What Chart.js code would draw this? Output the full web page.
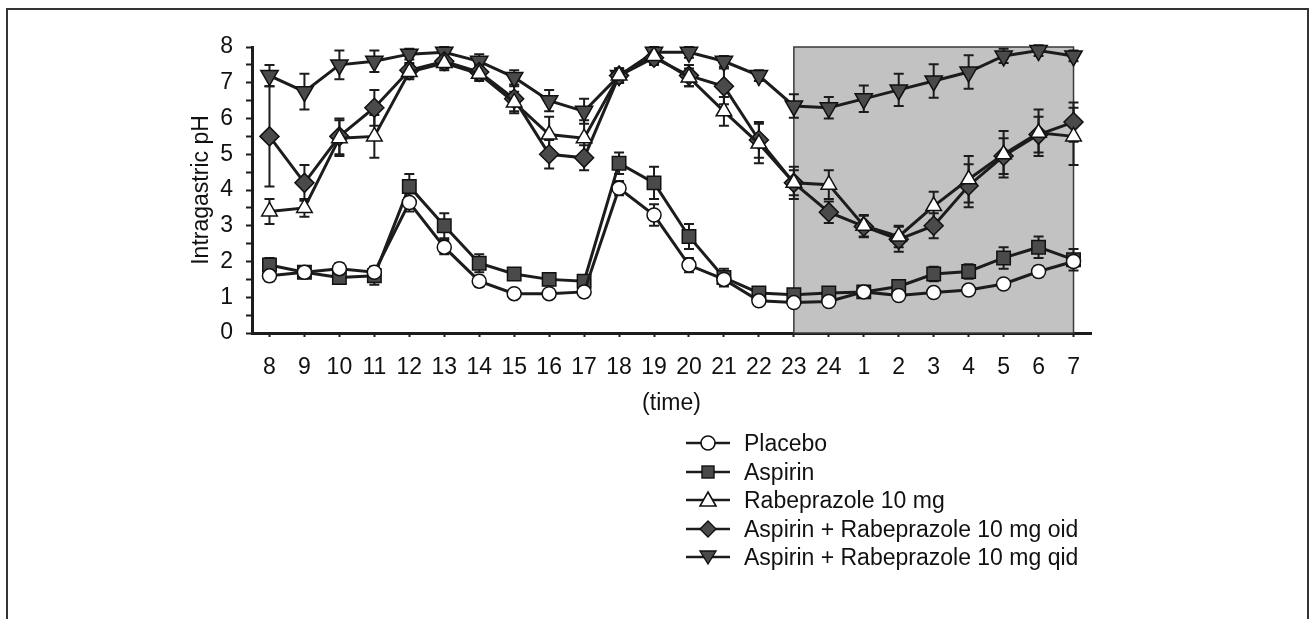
<!DOCTYPE html>
<html>
<head>
<meta charset="utf-8">
<script src="https://cdn.jsdelivr.net/npm/chart.js@4.4.1/dist/chart.umd.min.js"></script>
<style>
  html, body { margin: 0; padding: 0; background: #fff; }
  body { width: 1311px; height: 619px; position: relative; overflow: hidden; font-family: 'Liberation Sans', Arial, sans-serif; }
  #frame { position: absolute; left: 6px; top: 8px; width: 1299px; height: 700px; border: 2px solid #333; }
  #wrap { position: absolute; left: 0; top: 0; width: 1311px; height: 619px; }
  #legend { position: absolute; left: 686px; top: 429px; font-size: 23px; color: #111; }
  #legend .row { height: 28.5px; line-height: 28.5px; display: flex; align-items: center; }
  #legend svg { width: 44px; height: 28px; margin-right: 14px; flex: none; }
</style>
</head>
<body>
<div id="frame"></div>
<div id="wrap"><canvas id="graficoPH" width="1311" height="619"></canvas></div>
<div id="legend"></div>
<script>
// horas del registro de 24 h
const horas = ['8', '9', '10', '11', '12', '13', '14', '15', '16', '17', '18', '19', '20', '21', '22', '23', '24', '1', '2', '3', '4', '5', '6', '7'];

const placebo = [1.6, 1.7, 1.8, 1.7, 3.65, 2.4, 1.45, 1.1, 1.1, 1.15, 4.05, 3.3, 1.9, 1.5, 0.9, 0.85, 0.88, 1.15, 1.05, 1.13, 1.2, 1.37, 1.72, 2.0];
const placeboErr = [0.15, 0.1, 0.15, 0.15, 0.25, 0.2, 0.15, 0.1, 0.1, 0.15, 0.2, 0.3, 0.2, 0.15, 0.1, 0.1, 0.1, 0.1, 0.1, 0.1, 0.1, 0.1, 0.15, 0.15];

const aspirina = [1.9, 1.7, 1.55, 1.6, 4.1, 3.0, 1.95, 1.65, 1.5, 1.45, 4.75, 4.2, 2.7, 1.55, 1.12, 1.07, 1.12, 1.15, 1.3, 1.65, 1.72, 2.1, 2.4, 2.05];
const aspirinaErr = [0.2, 0.15, 0.1, 0.25, 0.35, 0.35, 0.25, 0.15, 0.15, 0.1, 0.3, 0.45, 0.35, 0.25, 0.15, 0.1, 0.1, 0.15, 0.15, 0.2, 0.2, 0.3, 0.3, 0.3];

const rabeprazol = [3.4, 3.5, 5.45, 5.5, 7.3, 7.55, 7.25, 6.45, 5.55, 5.45, 7.2, 7.75, 7.15, 6.2, 5.3, 4.2, 4.15, 3.0, 2.7, 3.55, 4.3, 5.0, 5.6, 5.5];
const rabeprazolErr = [0.35, 0.25, 0.5, 0.6, 0.2, 0.2, 0.2, 0.3, 0.5, 0.5, 0.2, 0.2, 0.25, 0.4, 0.55, 0.35, 0.4, 0.3, 0.3, 0.4, 0.65, 0.65, 0.65, 0.8];

const combOid = [5.5, 4.2, 5.5, 6.3, 7.35, 7.6, 7.3, 6.55, 5.0, 4.9, 7.2, 7.7, 7.2, 6.9, 5.4, 4.2, 3.38, 2.98, 2.62, 3.0, 4.12, 4.95, 5.55, 5.9];
const combOidErr = [1.4, 0.5, 0.5, 0.5, 0.2, 0.2, 0.2, 0.35, 0.4, 0.35, 0.2, 0.2, 0.3, 0.5, 0.5, 0.45, 0.3, 0.3, 0.35, 0.35, 0.6, 0.5, 0.5, 0.55];

const combQid = [7.2, 6.75, 7.5, 7.6, 7.8, 7.85, 7.6, 7.15, 6.5, 6.2, 7.2, 7.85, 7.85, 7.6, 7.2, 6.35, 6.3, 6.55, 6.8, 7.05, 7.3, 7.75, 7.9, 7.75];
const combQidErr = [0.3, 0.5, 0.4, 0.3, 0.15, 0.15, 0.2, 0.2, 0.3, 0.35, 0.2, 0.15, 0.15, 0.15, 0.15, 0.33, 0.3, 0.37, 0.45, 0.47, 0.47, 0.2, 0.15, 0.15];

// tramo nocturno sombreado
const nocheDesde = '23';
const nocheHasta = '7';

const INK = '#1c1c1c';
const GRIS = '#4a4a4a';

Chart.defaults.font.family = "'Liberation Sans', Arial, sans-serif";
Chart.defaults.font.size = 23;
Chart.defaults.color = '#111';

function serie(label, data, errors, style, fill, radius, rotation) {
  return {
    label,
    data,
    errors,
    borderColor: INK,
    borderWidth: 3,
    tension: 0,
    clip: false,
    pointStyle: style,
    pointRotation: rotation || 0,
    pointRadius: radius,
    pointHoverRadius: radius,
    pointBackgroundColor: fill,
    pointBorderColor: '#111',
    pointBorderWidth: 1.5,
  };
}

const sombraNoche = {
  id: 'sombraNoche',
  beforeDatasetsDraw(chart) {
    const { ctx, scales: { x, y } } = chart;
    const x0 = x.getPixelForValue(horas.indexOf(nocheDesde));
    const x1 = x.getPixelForValue(horas.indexOf(nocheHasta));
    const yTop = y.getPixelForValue(8);
    const yBot = y.getPixelForValue(0);
    ctx.save();
    ctx.fillStyle = '#c2c2c2';
    ctx.fillRect(x0, yTop, x1 - x0, yBot - yTop);
    ctx.strokeStyle = '#3a3a3a';
    ctx.lineWidth = 1.5;
    ctx.strokeRect(x0, yTop, x1 - x0, yBot - yTop);
    ctx.restore();
  },
};

const barrasError = {
  id: 'barrasError',
  beforeDatasetsDraw(chart) {
    const { ctx, scales: { y } } = chart;
    ctx.save();
    ctx.strokeStyle = INK;
    ctx.lineWidth = 2;
    chart.data.datasets.forEach((ds, i) => {
      const meta = chart.getDatasetMeta(i);
      meta.data.forEach((pt, j) => {
        const e = ds.errors[j];
        const v = ds.data[j];
        const yt = y.getPixelForValue(v + e);
        const yb = y.getPixelForValue(v - e);
        ctx.beginPath();
        ctx.moveTo(pt.x, yt); ctx.lineTo(pt.x, yb);
        ctx.moveTo(pt.x - 5, yt); ctx.lineTo(pt.x + 5, yt);
        ctx.moveTo(pt.x - 5, yb); ctx.lineTo(pt.x + 5, yb);
        ctx.stroke();
      });
    });
    ctx.restore();
  },
};

const ctx = document.getElementById('graficoPH').getContext('2d');
const chartPH = new Chart(ctx, {
  type: 'line',
  data: {
    labels: horas,
    datasets: [
      serie('Placebo', placebo, placeboErr, 'circle', '#ffffff', 7),
      serie('Aspirin', aspirina, aspirinaErr, 'rect', GRIS, 9.5),
      serie('Rabeprazole 10 mg', rabeprazol, rabeprazolErr, 'triangle', '#ffffff', 9),
      serie('Aspirin + Rabeprazole 10 mg oid', combOid, combOidErr, 'rectRot', GRIS, 9.5),
      serie('Aspirin + Rabeprazole 10 mg qid', combQid, combQidErr, 'triangle', GRIS, 10, 180),
    ],
  },
  options: {
    responsive: false,
    animation: false,
    devicePixelRatio: 1,
    layout: { padding: { left: 172, right: 220, top: 47, bottom: 201 } },
    plugins: {
      legend: { display: false },
      tooltip: { enabled: false },
    },
    scales: {
      x: {
        type: 'category',
        offset: true,
        afterFit: (s) => { s.height = 85; },
        title: { display: true, text: '(time)', padding: { top: 0, bottom: 1 }, color: '#111' },
        grid: { display: true, drawOnChartArea: false, drawTicks: true, tickLength: 4, tickColor: INK, tickWidth: 2 },
        border: { color: INK, width: 3 },
        ticks: { color: '#111', padding: 17, autoSkip: false, maxRotation: 0 },
      },
      y: {
        min: 0,
        max: 8,
        afterFit: (s) => { s.width = 80; },
        title: { display: true, text: 'Intragastric pH', padding: { top: 16, bottom: 0 }, color: '#111' },
        grid: { display: true, drawOnChartArea: false, drawTicks: true, tickLength: 6, tickColor: INK, tickWidth: 2 },
        border: { color: INK, width: 3 },
        ticks: {
          stepSize: 0.5,
          padding: 13,
          autoSkip: false,
          callback: (v) => (Number.isInteger(v) ? String(v) : ''),
        },
      },
    },
  },
  plugins: [sombraNoche, barrasError],
});

// leyenda vertical en HTML, a partir de los datasets
function iconoSerie(ds) {
  const cx = 22, cy = 14;
  let marca = '';
  const f = ds.pointBackgroundColor;
  if (ds.pointStyle === 'circle') {
    marca = `<circle cx="${cx}" cy="${cy}" r="7" fill="${f}" stroke="#111" stroke-width="1.6"/>`;
  } else if (ds.pointStyle === 'rect') {
    marca = `<rect x="${cx - 6}" y="${cy - 6}" width="12" height="12" fill="${f}" stroke="#111" stroke-width="1.4"/>`;
  } else if (ds.pointStyle === 'rectRot') {
    marca = `<polygon points="${cx},${cy - 8} ${cx + 8},${cy} ${cx},${cy + 8} ${cx - 8},${cy}" fill="${f}" stroke="#111" stroke-width="1.4"/>`;
  } else if (ds.pointRotation === 180) {
    marca = `<polygon points="${cx - 8},${cy - 6} ${cx + 8},${cy - 6} ${cx},${cy + 7}" fill="${f}" stroke="#111" stroke-width="1.4"/>`;
  } else {
    marca = `<polygon points="${cx},${cy - 8} ${cx + 8},${cy + 6} ${cx - 8},${cy + 6}" fill="${f}" stroke="#111" stroke-width="1.6"/>`;
  }
  return `<svg viewBox="0 0 44 28"><line x1="0" y1="${cy}" x2="44" y2="${cy}" stroke="${INK}" stroke-width="2.5"/>${marca}</svg>`;
}

const leyenda = document.getElementById('legend');
chartPH.data.datasets.forEach((ds) => {
  const row = document.createElement('div');
  row.className = 'row';
  row.innerHTML = iconoSerie(ds) + `<span>${ds.label}</span>`;
  leyenda.appendChild(row);
});
</script>
</body>
</html>
